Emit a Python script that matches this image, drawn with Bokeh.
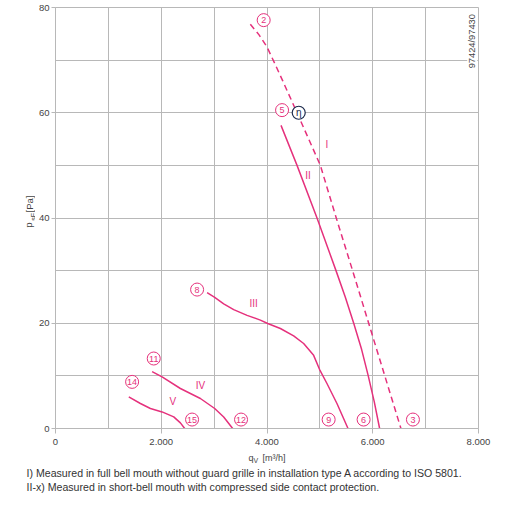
import math
from bokeh.plotting import figure
from bokeh.layouts import column, row
from bokeh.models import Range1d, FixedTicker, Label, ColumnDataSource
from bokeh.core.properties import value
from bokeh.embed import file_html
from bokeh.resources import INLINE

# Fan characteristic curves: air flow q_V [m³/h] vs. static pressure p_sF [Pa]
curve_I_q = [3685, 3850, 4000, 4150, 4300, 4568, 5009, 5310, 5619, 5923, 6228, 6533]
curve_I_p = [76.8, 74.8, 72.5, 69.3, 66.0, 60.0, 50.0, 40.0, 30.0, 20.0, 10.0, 0.0]

curve_II_q = [4265, 4568, 4946, 5305, 5480, 5640, 5790, 5915, 6030, 6130]
curve_II_p = [57.6, 50.0, 40.0, 30.0, 25.0, 20.0, 15.0, 10.0, 5.0, 0.0]

curve_III_q = [2867, 3011, 3181, 3370, 3623, 3875, 4013, 4253, 4504, 4693,
               4882, 4995, 5134, 5323, 5532]
curve_III_p = [25.8, 24.9, 23.7, 22.6, 21.5, 20.6, 19.95, 19.0, 17.6, 16.15,
               13.9, 11.2, 8.55, 4.75, 0.0]

curve_IV_q = [1827, 2016, 2362, 2740, 3011, 3181, 3351]
curve_IV_p = [10.8, 9.8, 7.6, 5.7, 3.8, 2.2, 0.0]

curve_V_q = [1386, 1606, 1795, 2016, 2236, 2362, 2444]
curve_V_p = [6.0, 4.75, 3.8, 3.15, 2.2, 1.07, 0.0]

# Operating point markers (circled numbers)
point_names = ["2", "3", "5", "6", "8", "9", "11", "12", "14", "15"]
point_q = [3937, 6760, 4285, 5827, 2678, 5166, 1858, 3509, 1449, 2583]
point_p = [77.6, 1.7, 60.5, 1.7, 26.4, 1.7, 13.3, 1.7, 8.86, 1.7]

# Efficiency-optimum marker
eta_q = [4600]
eta_p = [60.0]

# Curve names
curve_names = ["I", "II", "III", "IV", "V"]
curve_name_q = [5134, 4775, 3748, 2741, 2217]
curve_name_p = [54.0, 48.1, 23.75, 8.1, 5.05]

x_ticks = [0, 2000, 4000, 6000, 8000]
x_tick_labels = ["0", "2.000", "4.000", "6.000", "8.000"]
y_ticks = [0, 20, 40, 60, 80]
y_tick_labels = ["0", "20", "40", "60", "80"]

footnotes = [
    "I) Measured in full bell mouth without guard grille in installation type A according to ISO 5801.",
    "II-x) Measured in short-bell mouth with compressed side contact protection.",
]

PINK = "#e5317c"
GRID = "#b8b8b8"
TEXT = "#444444"
FONT = "Liberation Sans"


def text_strip(w, h):
    """A bare canvas (pixel coordinates, y downwards) for free text."""
    s = figure(width=w, height=h, x_range=Range1d(0, w), y_range=Range1d(h, 0),
               output_backend="svg", toolbar_location=None, min_border=0)
    s.axis.visible = False
    s.grid.visible = False
    s.outline_line_color = None
    s.background_fill_color = "white"
    s.border_fill_color = "white"
    return s


# Main chart
p = figure(
    width=496, height=451,
    x_range=Range1d(0, 8000), y_range=Range1d(0, 80),
    output_backend="svg", toolbar_location=None,
    min_border_left=20, min_border_right=53,
    min_border_top=7, min_border_bottom=23,
)
p.background_fill_color = "white"
p.border_fill_color = "white"
p.outline_line_color = GRID

p.xaxis.ticker = FixedTicker(ticks=x_ticks)
p.yaxis.ticker = FixedTicker(ticks=y_ticks)
p.xaxis.major_label_overrides = dict(zip(x_ticks, x_tick_labels))
p.yaxis.major_label_overrides = dict(zip(y_ticks, y_tick_labels))
p.xgrid.ticker = FixedTicker(ticks=list(range(0, 8001, 1000)))
p.ygrid.ticker = FixedTicker(ticks=list(range(0, 81, 10)))
for g in (p.xgrid, p.ygrid):
    g.grid_line_color = GRID
    g.grid_line_width = 1
for ax in (p.xaxis, p.yaxis):
    ax.axis_line_color = GRID
    ax.major_tick_line_color = GRID
    ax.major_tick_in = 0
    ax.minor_tick_out = 0
    ax.minor_tick_line_color = None
    ax.major_label_text_font = FONT
    ax.major_label_text_font_size = "9.5px"
    ax.major_label_text_color = TEXT
p.xaxis.major_tick_out = 5
p.yaxis.major_tick_out = 4
p.xaxis.major_label_standoff = 5
p.yaxis.major_label_standoff = 2

# Curves
p.line(curve_I_q, curve_I_p, line_color=PINK, line_width=1.5, line_dash="6 4")
for q, pr in ((curve_II_q, curve_II_p), (curve_III_q, curve_III_p),
              (curve_IV_q, curve_IV_p), (curve_V_q, curve_V_p)):
    p.line(q, pr, line_color=PINK, line_width=1.5, line_join="round")

# Circled operating-point numbers
pts = ColumnDataSource(dict(q=point_q, p=point_p, t=point_names))
p.scatter("q", "p", source=pts, marker="circle", size=13,
          fill_color="white", line_color=PINK, line_width=1)
p.text("q", "p", text="t", source=pts, text_align="center", text_baseline="middle",
       text_font=value(FONT), text_font_size="9px", text_color=PINK)

# Efficiency marker
p.scatter(eta_q, eta_p, marker="circle", size=13, fill_color="white",
          line_color="#1d2b4c", line_width=1.2)
p.text(eta_q, eta_p, text=["η"], text_align="center", text_baseline="middle",
       text_font=value(FONT), text_font_size="10px", text_color="#1d2b4c")

# Roman curve names
p.text(curve_name_q, curve_name_p, text=curve_names, text_align="center",
       text_baseline="middle", text_font=value(FONT), text_font_size="10px",
       text_color=PINK)

# Drawing id
p.add_layout(Label(x=7881, y=73.6, text="97424/97430", angle=math.pi / 2,
                   text_align="center", text_baseline="middle",
                   text_font=FONT, text_font_size="9.3px", text_color=TEXT,
                   background_fill_color="white"))

# y-axis title p_sF [Pa], written bottom to top
left = text_strip(35, 451)
left.text([28, 32.5, 28.7], [236, 228.5, 219.5], text=["p", "sF", "[Pa]"],
          angle=math.pi / 2, text_align="left", text_baseline="middle",
          text_font=value(FONT), text_font_size=["9.5px", "7px", "9.5px"],
          text_color=TEXT)

# x-axis title q_V [m³/h] and footnotes
bottom = text_strip(531, 62)
bottom.text([248, 253, 262], [6, 8.5, 6], text=["q", "V", "[m³/h]"],
            text_align="left", text_baseline="middle", text_font=value(FONT),
            text_font_size=["9px", "7px", "9px"], text_color=TEXT)
bottom.text([26, 26], [21.8, 35.2], text=footnotes, text_align="left",
            text_baseline="middle", text_font=value(FONT),
            text_font_size="10.6px", text_color="#333333")

layout = column(row(left, p), bottom)
open("out.html", "w").write(file_html(layout, INLINE))
